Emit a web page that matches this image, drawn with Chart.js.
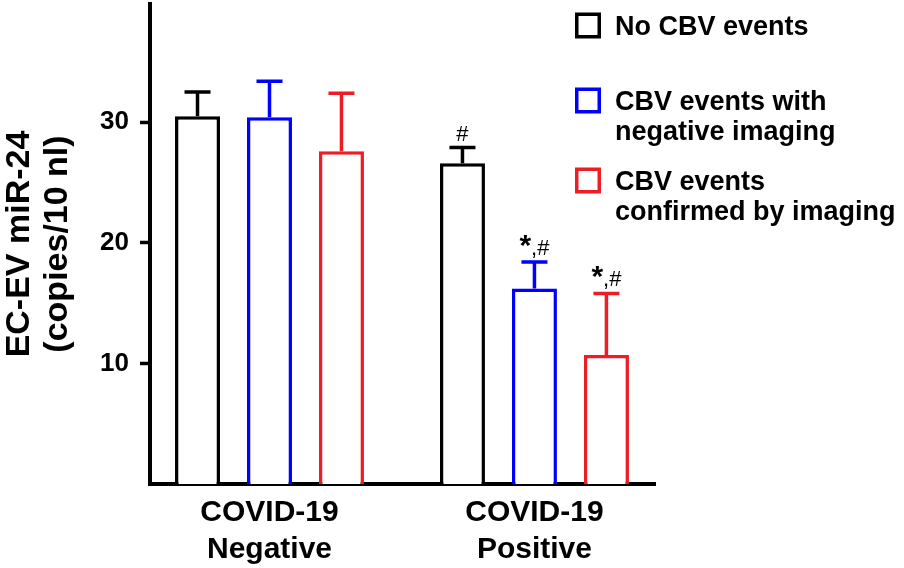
<!DOCTYPE html>
<html>
<head>
<meta charset="utf-8">
<script src="https://cdn.jsdelivr.net/npm/chart.js@4.4.0/dist/chart.umd.min.js"></script>
<style>
  html, body { margin: 0; padding: 0; background: #fff; }
  #wrap { width: 904px; height: 568px; }
</style>
</head>
<body>
<div id="wrap"><canvas id="mirChart" width="904" height="568"></canvas></div>
<script>
var groups = [['COVID-19', 'Negative'], ['COVID-19', 'Positive']];
var seriesNames = [['No CBV events'], ['CBV events with', 'negative imaging'], ['CBV events', 'confirmed by imaging']];
var seriesColors = ['#000000', '#0000ff', '#ee1c24'];
var noCbv = [30.5, 26.6];
var noCbvSem = [2.0, 1.3];
var cbvNegImaging = [30.4, 16.2];
var cbvNegImagingSem = [3.0, 2.2];
var cbvConfirmed = [27.6, 10.7];
var cbvConfirmedSem = [4.8, 5.1];
var noCbvMarks = ['', '#'];
var cbvNegImagingMarks = ['', '*,#'];
var cbvConfirmedMarks = ['', '*,#'];
var yTicks = [10, 20, 30];
var yTitle = ['EC-EV miR-24', '(copies/10 nl)'];

var FONT = "'Liberation Sans', Arial, sans-serif";

// groups sit at x = 1, 2 on a linear axis so the y axis can start left of the first slot
var toPoints = function(values) {
    return values.map(function(v, i) { return {x: i + 1, y: v}; });
};

var makeSet = function(idx, values, sem, marks) {
    return {
        label: seriesNames[idx].join(' '),
        data: toPoints(values),
        sem: sem,
        marks: marks,
        backgroundColor: '#ffffff',
        borderColor: seriesColors[idx],
        borderWidth: 3.5,
        borderSkipped: 'start'
    };
};

// upward-only SEM bars plus the significance marks above them
var errorBars = {
    id: 'errorBars',
    afterDatasetsDraw: function(chart) {
        var ctx = chart.ctx;
        var yScale = chart.scales.y;
        chart.data.datasets.forEach(function(ds, d) {
            var meta = chart.getDatasetMeta(d);
            meta.data.forEach(function(bar, i) {
                var top = yScale.getPixelForValue(ds.data[i].y + ds.sem[i]);
                ctx.save();
                ctx.strokeStyle = ds.borderColor;
                ctx.lineWidth = 3.5;
                ctx.beginPath();
                ctx.moveTo(bar.x, bar.y);
                ctx.lineTo(bar.x, top);
                ctx.moveTo(bar.x - 13, top);
                ctx.lineTo(bar.x + 13, top);
                ctx.stroke();

                var mark = ds.marks[i];
                if (mark) {
                    var parts = mark.charAt(0) === '*'
                        ? [['*', 'bold 30px ' + FONT], [mark.slice(1), '22px ' + FONT]]
                        : [[mark, '22px ' + FONT]];
                    var widths = parts.map(function(p) {
                        ctx.font = p[1];
                        return ctx.measureText(p[0]).width;
                    });
                    var total = widths.reduce(function(a, b) { return a + b; }, 0);
                    var x = bar.x - total / 2;
                    ctx.fillStyle = '#000';
                    ctx.textAlign = 'left';
                    ctx.textBaseline = 'alphabetic';
                    parts.forEach(function(p, k) {
                        ctx.font = p[1];
                        ctx.fillText(p[0], x, top - 7);
                        x += widths[k];
                    });
                }
                ctx.restore();
            });
        });
    }
};

// legend with open boxes, drawn inside the plot's upper right
var boxLegend = {
    id: 'boxLegend',
    afterDraw: function(chart) {
        var ctx = chart.ctx;
        var baselines = [35, 110, 190];
        ctx.save();
        ctx.font = 'bold 27px ' + FONT;
        ctx.textAlign = 'left';
        ctx.textBaseline = 'alphabetic';
        chart.data.datasets.forEach(function(ds, d) {
            var base = baselines[d];
            ctx.strokeStyle = ds.borderColor;
            ctx.lineWidth = 3.5;
            ctx.strokeRect(575 + 1.75, base - 22.5 + 1.75, 26 - 3.5, 26 - 3.5);
            ctx.fillStyle = '#000';
            seriesNames[d].forEach(function(line, k) {
                ctx.fillText(line, 615, base + k * 30);
            });
        });
        ctx.restore();
    }
};

var ctx = document.getElementById('mirChart').getContext('2d');
var myChart = new Chart(ctx, {
    type: 'bar',
    data: {
        datasets: [
            makeSet(0, noCbv, noCbvSem, noCbvMarks),
            makeSet(1, cbvNegImaging, cbvNegImagingSem, cbvNegImagingMarks),
            makeSet(2, cbvConfirmed, cbvConfirmedSem, cbvConfirmedMarks)
        ]
    },
    options: {
        responsive: false,
        animation: false,
        layout: { padding: { left: 0, top: 4, right: 249, bottom: 0 } },
        datasets: { bar: { categoryPercentage: 0.815, barPercentage: 0.625 } },
        plugins: { legend: { display: false }, tooltip: { enabled: false } },
        scales: {
            x: {
                type: 'linear',
                min: 0.549,
                max: 2.455,
                offset: false,
                bounds: 'data',
                z: 1,
                afterBuildTicks: function(scale) {
                    scale.ticks = groups.map(function(g, i) { return {value: i + 1}; });
                },
                afterFit: function(scale) {
                    scale.height = 84;
                    scale.paddingLeft = 0;
                    scale.paddingRight = 0;
                },
                grid: { display: false, drawTicks: false, offset: false },
                border: { display: true, color: '#000', width: 4 },
                ticks: {
                    autoSkip: false,
                    maxRotation: 0,
                    minRotation: 0,
                    padding: 10,
                    color: '#000',
                    font: { family: FONT, size: 30, weight: 'bold', lineHeight: 1.23 },
                    callback: function(v) { return groups[v - 1]; }
                }
            },
            y: {
                min: 0,
                max: 39.8,
                z: 1,
                afterBuildTicks: function(scale) {
                    scale.ticks = yTicks.map(function(v) { return {value: v}; });
                },
                afterFit: function(scale) {
                    scale.width = 150;
                    scale.paddingTop = 0;
                    scale.paddingBottom = 0;
                },
                grid: { drawOnChartArea: false, tickLength: 10, tickWidth: 3.5, tickColor: '#000' },
                border: { display: true, color: '#000', width: 4 },
                ticks: {
                    padding: 11,
                    color: '#000',
                    font: { family: FONT, size: 26, weight: 'bold' }
                },
                title: {
                    display: true,
                    text: yTitle,
                    color: '#000',
                    font: { family: FONT, size: 34, weight: 'bold', lineHeight: 1.118 },
                    padding: { top: 1, bottom: 0 }
                }
            }
        }
    },
    plugins: [errorBars, boxLegend]
});
</script>
</body>
</html>
